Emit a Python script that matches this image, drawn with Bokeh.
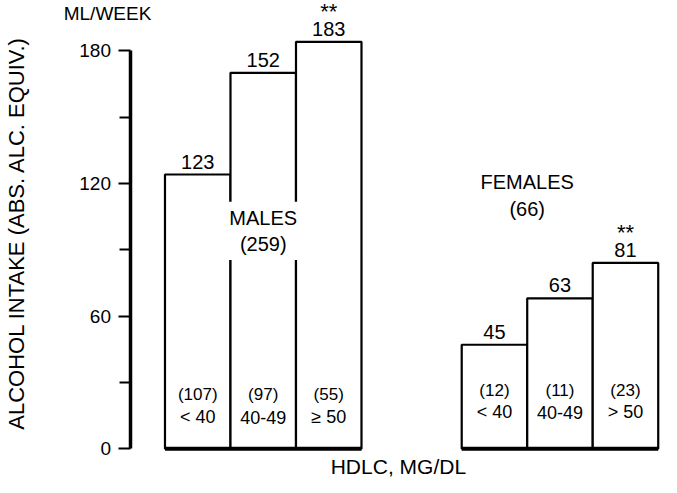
from bokeh.plotting import figure
from bokeh.models import Range1d, FixedTicker
from bokeh.core.properties import value
from bokeh.embed import file_html
from bokeh.resources import INLINE
import math

# ---- data ----
male_hdlc = ["< 40", "40-49", "≥ 50"]
male_n = ["(107)", "(97)", "(55)"]
male_labels = ["123", "152", "183"]
male_bar = [124, 170, 184]          # bar heights as drawn
male_sig = ["", "", "**"]

female_hdlc = ["< 40", "40-49", "> 50"]
female_n = ["(12)", "(11)", "(23)"]
female_labels = ["45", "63", "81"]
female_bar = [47, 68, 84]           # bar heights as drawn
female_sig = ["", "", "**"]

y_ticks = [0, 60, 120, 180]
y_minor = [30, 90, 150]

FONT = value("Liberation Sans")

# group placement (bar units)
male_left = [0, 1, 2]
female_left = [4.53, 5.53, 6.53]

p = figure(width=661, height=477, output_backend="svg", toolbar_location=None,
           x_range=Range1d(-2.511, 7.580), y_range=Range1d(-13.03, 202.7),
           min_border_left=0, min_border_right=0, min_border_top=0,
           min_border_bottom=0, x_axis_location=None)
p.grid.visible = False
p.outline_line_color = None
p.background_fill_color = "white"

ax = p.yaxis[0]
ax.fixed_location = -0.534
ax.ticker = FixedTicker(ticks=y_ticks, minor_ticks=y_minor)
ax.bounds = (0, 180)
ax.axis_line_width = 3.5
ax.axis_line_color = "black"
ax.major_tick_line_width = 2
ax.major_tick_out = 12
ax.major_tick_in = 0
ax.minor_tick_out = 11
ax.minor_tick_in = 0
ax.minor_tick_line_width = 2
ax.major_label_text_font = "Liberation Sans"
ax.major_label_text_font_size = "19px"
ax.major_label_text_color = "black"
ax.major_label_standoff = 7


def draw_group(lefts, heights, labels, sig, ns, hdlc, n_y, h_y):
    rights = [l + 1 for l in lefts]
    centers = [l + 0.5 for l in lefts]
    p.quad(left=lefts, right=rights, bottom=0, top=heights,
           fill_color="white", line_color="black", line_width=2.2)
    p.segment(x0=[lefts[0]], x1=[rights[-1]], y0=[0], y1=[0],
              line_color="black", line_width=4)
    p.text(x=centers, y=heights, text=labels, text_align="center",
           text_baseline="middle", y_offset=-13, text_font=FONT,
           text_font_size="20px", text_color="black")
    p.text(x=centers, y=heights, text=sig, text_align="center",
           text_baseline="middle", y_offset=-30, text_font=FONT,
           text_font_size="22px", text_color="black")
    p.text(x=centers, y=[n_y] * 3, text=ns, text_align="center",
           text_baseline="middle", text_font=FONT,
           text_font_size="17px", text_color="black")
    p.text(x=centers, y=[h_y] * 3, text=hdlc, text_align="center",
           text_baseline="middle", text_font=FONT,
           text_font_size="18px", text_color="black")
    return centers


mc = draw_group(male_left, male_bar, male_labels, male_sig, male_n, male_hdlc, 24.5, 14.3)
fc = draw_group(female_left, female_bar, female_labels, female_sig, female_n, female_hdlc, 26.3, 16.5)

# group captions
p.text(x=[mc[1]], y=[98.5], text=["MALES\n(259)"], text_align="center",
       text_baseline="middle", text_font=FONT, text_font_size="20px",
       text_color="black", background_fill_color="white", padding=5)
p.text(x=[female_left[1]], y=[114.5], text=["FEMALES\n(66)"], text_align="center",
       text_baseline="middle", text_font=FONT, text_font_size="20px",
       text_color="black")

# free texts
p.text(x=[-1.546], y=[196.9], text=["ML/WEEK"], text_align="left",
       text_baseline="middle", text_font=FONT, text_font_size="19px",
       text_color="black")
p.text(x=[2.53], y=[-8.0], text=["HDLC,  MG/DL"], text_align="left",
       text_baseline="middle", text_font=FONT, text_font_size="21px",
       text_color="black")
p.text(x=[-2.27], y=[97.6], angle=math.pi / 2,
       text=["ALCOHOL INTAKE (ABS. ALC. EQUIV.)"], text_align="center",
       text_baseline="middle", text_font=FONT, text_font_size="22px",
       text_color="black")

open("out.html", "w").write(file_html(p, INLINE))
